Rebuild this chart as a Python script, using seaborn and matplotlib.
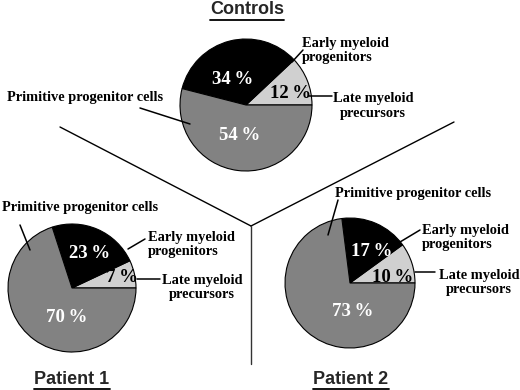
import numpy as np
import pandas as pd
import matplotlib
matplotlib.use("Agg")
import matplotlib.pyplot as plt
import seaborn as sns

# values (percent of cells)
groups = ["Controls", "Patient 1", "Patient 2"]
late_pct = [12, 7, 10]
early_pct = [34, 23, 17]
prim_pct = [54, 70, 73]
cat_names = ["Late myeloid\nprecursors", "Early myeloid\nprogenitors", "Primitive progenitor cells"]

df = pd.DataFrame({"group": groups, "late": late_pct, "early": early_pct, "prim": prim_pct})

sns.set_theme(style="white")
plt.rcParams["font.family"] = ["Liberation Serif", "DejaVu Serif"]

light, dark = sns.color_palette(["#d0d0d0", "#828282"])
slice_colors = [light, "black", dark]

W, H = 520, 390
def Y(y):
    # pixel row (top=0) -> data y
    return H - y

fig = plt.figure(figsize=(5.2, 3.9), dpi=100)
ax = fig.add_axes([0, 0, 1, 1])

# layout for each pie: centre, radius, label/leader positions (pixels)
layout = {
    "Controls": dict(c=(246, 105), r=66, title=(247, 10),
                     prim=(7, 97, "left"), prim_ln=[(140, 108), (190, 124)],
                     early=(302, 50.5), early_ln=[(292, 62), (303, 50)],
                     late=(373, 106), late_ln=[(309, 96), (332, 96)],
                     pct=[(291, 93), (233, 80), (240, 135)]),
    "Patient 1": dict(c=(72, 288), r=64, title=(72, 379),
                      prim=(2, 207, "left"), prim_ln=[(20, 225), (30, 250)],
                      early=(148, 244.5), early_ln=[(128, 249), (145, 239)],
                      late=(202, 287.5), late_ln=[(137, 279), (160, 279)],
                      pct=[(122, 278), (90, 253), (67, 317)]),
    "Patient 2": dict(c=(350, 283), r=65, title=(351, 379),
                      prim=(335, 194, "left"), prim_ln=[(338, 200), (328, 235)],
                      early=(422, 237.5), early_ln=[(400, 242), (420, 230)],
                      late=(479, 282.5), late_ln=[(415, 272), (435, 272)],
                      pct=[(393, 277), (372, 252), (353, 312)]),
}

lab_kw = dict(fontsize=10.4, fontweight="bold", color="black")
pct_kw = dict(fontsize=13.5, fontweight="bold", ha="center", va="center")

for _, row in df.iterrows():
    L = layout[row["group"]]
    vals = [row["late"], row["early"], row["prim"]]
    cx, cy = L["c"]
    ax.pie(vals, colors=slice_colors, startangle=0, counterclock=True,
           center=(cx, Y(cy)), radius=L["r"],
           wedgeprops=dict(edgecolor="black", linewidth=0.8))

    for v, (px, py), col in zip(vals, L["pct"], ["black", "white", "white"]):
        ax.text(px, Y(py), f"{v}\u2009%", color=col, **pct_kw)

    px, py, ha = L["prim"]
    ax.text(px, Y(py), cat_names[2], ha=ha, va="center", **lab_kw)
    ax.text(L["early"][0], Y(L["early"][1]), cat_names[1], ha="left", va="center",
            multialignment="left", linespacing=1.15, **lab_kw)
    ax.text(L["late"][0], Y(L["late"][1]), cat_names[0], ha="center", va="center",
            multialignment="center", linespacing=1.15, **lab_kw)
    for key in ["prim_ln", "early_ln", "late_ln"]:
        (x0, y0), (x1, y1) = L[key]
        ax.plot([x0, x1], [Y(y0), Y(y1)], color="black", lw=1.1)

# the Y-shaped divider
ax.plot([60, 251], [Y(127), Y(226)], color="black", lw=1)
ax.plot([454, 251], [Y(122), Y(226)], color="black", lw=1)
ax.plot([251, 251], [Y(226), Y(364)], color="#333333", lw=1)

ax.set_xlim(0, W)
ax.set_ylim(0, H)
ax.set_aspect("equal")
ax.axis("off")

# underlined sans titles
titles = []
for g in groups:
    tx, ty = layout[g]["title"]
    t = ax.text(tx, Y(ty), g, ha="center", va="center", fontsize=13, fontweight="bold",
                family=["Liberation Sans", "DejaVu Sans"])
    titles.append(t)
fig.canvas.draw()
r = fig.canvas.get_renderer()
inv = ax.transData.inverted()
for t in titles:
    bb = t.get_window_extent(renderer=r)
    (x0, y0), (x1, y1) = inv.transform([(bb.x0, bb.y0), (bb.x1, bb.y1)])
    ax.plot([x0, x1], [y0 - 1, y0 - 1], color="black", lw=1.3)

fig.savefig("out.png", dpi=100)
